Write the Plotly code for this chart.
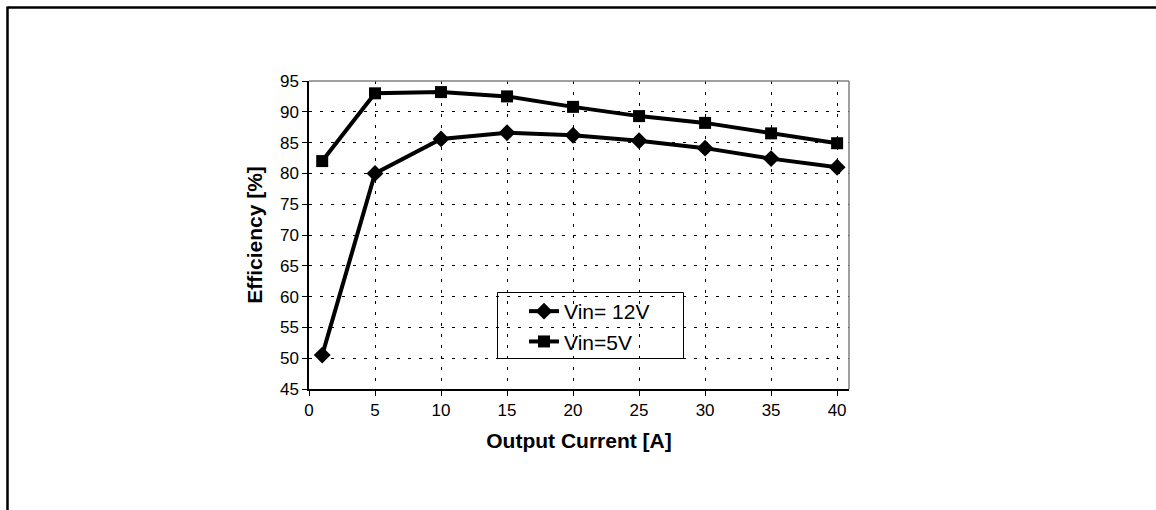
import plotly.graph_objects as go

current = [1, 5, 10, 15, 20, 25, 30, 35, 40]
eff_12v = [50.5, 80.0, 85.6, 86.6, 86.2, 85.3, 84.1, 82.4, 81.0]
eff_5v = [82.0, 93.0, 93.2, 92.5, 90.8, 89.3, 88.2, 86.5, 84.9]
x_ticks = [0, 5, 10, 15, 20, 25, 30, 35, 40]
y_ticks = [45, 50, 55, 60, 65, 70, 75, 80, 85, 90, 95]

FONT = "Liberation Sans, Arial, sans-serif"

fig = go.Figure()
fig.add_trace(go.Scatter(
    x=current, y=eff_12v, name="Vin= 12V", mode="lines+markers",
    line=dict(color="black", width=4),
    marker=dict(symbol="diamond", size=13, color="black"),
    legendgroup="a"))
fig.add_trace(go.Scatter(
    x=current, y=eff_5v, name="Vin=5V", mode="lines+markers",
    line=dict(color="black", width=4),
    marker=dict(symbol="square", size=12, color="black"),
    legendgroup="b"))

L, R, T, B = 309, 307, 81, 121
W, H = 1156, 510
pw, ph = W - L - R, H - T - B

def px(xp):
    return (xp - L) / pw

def py(yp):
    return (H - B - yp) / ph

fig.update_layout(
    width=W, height=H,
    margin=dict(l=L, r=R, t=T, b=B, pad=0),
    paper_bgcolor="white", plot_bgcolor="white",
    font=dict(family=FONT, size=17, color="black"),
    showlegend=True,
    legend=dict(
        x=px(524), y=py(291), xanchor="left", yanchor="top",
        borderwidth=0, bgcolor="rgba(0,0,0,0)",
        font=dict(family=FONT, size=21, color="black"),
        tracegroupgap=0, itemwidth=30,
    ),
    xaxis=dict(
        range=[0, 40.9], tickvals=x_ticks, ticktext=[str(v) for v in x_ticks],
        showline=True, linecolor="black", linewidth=1.5,
        ticks="outside", ticklen=5, tickcolor="black", tickwidth=1,
        showgrid=True, gridcolor="black", gridwidth=1, griddash="3px,8px",
        zeroline=False,
        title=dict(text="<b>Output Current [A]</b>", font=dict(family=FONT, size=21), standoff=14),
        tickfont=dict(size=17),
    ),
    yaxis=dict(
        range=[45, 95], tickvals=y_ticks, ticktext=[str(v) for v in y_ticks],
        showline=True, linecolor="black", linewidth=1.5,
        ticks="outside", ticklen=5, tickcolor="black", tickwidth=1,
        showgrid=True, gridcolor="black", gridwidth=1, griddash="3px,8px",
        zeroline=False,
        title=dict(text="<b>Efficiency [%]</b>", font=dict(family=FONT, size=21), standoff=12),
        tickfont=dict(size=17),
    ),
    shapes=[
        # legend box
        dict(type="rect", xref="paper", yref="paper", x0=px(497.5), x1=px(683.5), y0=py(358.5), y1=py(292.5),
             line=dict(color="black", width=1), fillcolor="white", layer="between"),
        # gray plot border top & right
        dict(type="line", xref="paper", yref="paper", x0=0, x1=1, y0=1, y1=1,
             line=dict(color="#808080", width=1.5), layer="above"),
        dict(type="line", xref="paper", yref="paper", x0=1, x1=1, y0=0, y1=1,
             line=dict(color="#808080", width=1.5), layer="above"),
        # outer frame (top & left)
        dict(type="line", xref="paper", yref="paper", x0=px(7.5), x1=px(1160), y0=py(7.5), y1=py(7.5),
             line=dict(color="black", width=2.5)),
        dict(type="line", xref="paper", yref="paper", x0=px(7.5), x1=px(7.5), y0=py(6.5), y1=py(515),
             line=dict(color="black", width=2.5)),
    ],
)

fig.write_html("out.html", config={"displayModeBar": False},
               post_script="document.body.style.margin='0px';document.body.style.overflow='hidden';")
